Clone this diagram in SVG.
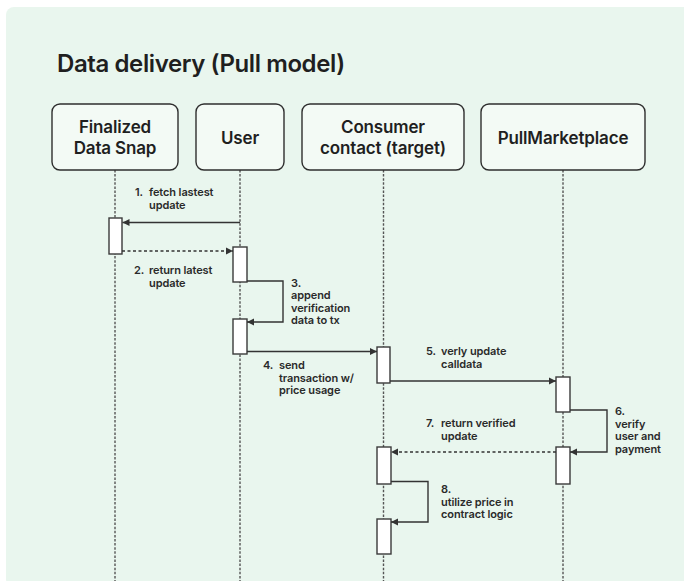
<svg xmlns="http://www.w3.org/2000/svg" width="684" height="581" viewBox="0 0 684 581">
<defs>
<style>
.bg{fill:#e9f6ee}
.box{fill:#f3faf5;stroke:#2e2e2e;stroke-width:1.4}
.bt{font-family:Inter,"Liberation Sans",sans-serif;font-size:17px;font-weight:600;fill:#1f1f1f;text-anchor:middle;letter-spacing:-0.15px}
.title{font-family:Inter,"Liberation Sans",sans-serif;font-size:24px;font-weight:600;fill:#1f1f1f;letter-spacing:-0.4px}
.life{stroke:#555;stroke-width:1.4;stroke-dasharray:2.5 1.6;fill:none}
.act{fill:#fff;stroke:#3a3a3a;stroke-width:1.4}
.msg{stroke:#333;stroke-width:1.4;fill:none;marker-end:url(#ah)}
.dash{stroke-dasharray:3 2.5}
.lb{font-family:Inter,"Liberation Sans",sans-serif;font-size:11px;font-weight:600;fill:#2a2a2a;letter-spacing:-0.1px}
</style>
<marker id="ah" markerUnits="userSpaceOnUse" markerWidth="8" markerHeight="8" viewBox="0 0 8 8" refX="7" refY="4" orient="auto">
<path d="M0,0.5 L7,4 L0,7.5 z" fill="#333"/>
</marker>
</defs>
<rect x="0" y="0" width="684" height="581" fill="#ffffff"/>
<rect class="bg" x="6" y="7" width="690" height="580" rx="8"/>
<text class="title" x="57" y="72">Data delivery (Pull model)</text>

<g id="snap">
<line class="life" x1="115" y1="170" x2="115" y2="581"/>
<rect class="box" x="52" y="104" width="126" height="66" rx="8"/>
<text class="bt" x="115" y="133">Finalized</text>
<text class="bt" x="115" y="154">Data Snap</text>
<rect class="act" x="109" y="218" width="13" height="36"/>
</g>

<g id="user">
<line class="life" x1="240" y1="170" x2="240" y2="581"/>
<rect class="box" x="196" y="104" width="88" height="66" rx="8"/>
<text class="bt" x="240" y="143.5">User</text>
<rect class="act" x="233" y="247" width="14" height="35"/>
<rect class="act" x="233" y="319" width="14" height="35"/>
</g>

<g id="consumer">
<line class="life" x1="383.5" y1="170" x2="383.5" y2="581"/>
<rect class="box" x="302" y="104" width="162" height="66" rx="8"/>
<text class="bt" x="383" y="133">Consumer</text>
<text class="bt" x="383" y="154">contact (target)</text>
<rect class="act" x="377" y="347" width="13" height="36"/>
<rect class="act" x="377" y="447" width="14" height="37"/>
<rect class="act" x="377" y="519" width="14" height="35"/>
</g>

<g id="marketplace">
<line class="life" x1="563" y1="170" x2="563" y2="581"/>
<rect class="box" x="481" y="104" width="164" height="66" rx="8"/>
<text class="bt" x="563" y="143.5">PullMarketplace</text>
<rect class="act" x="556" y="377" width="14" height="35"/>
<rect class="act" x="556" y="447" width="14" height="37"/>
</g>

<g id="connectors">
<path class="msg" d="M240 222.5 H122.5"/>
<path class="msg dash" d="M122 251 H233"/>
<path class="msg" d="M247 281 H283 V322 H247"/>
<path class="msg" d="M247 351.5 H377"/>
<path class="msg" d="M390 381 H556"/>
<path class="msg" d="M570 410 H607 V452 H570"/>
<path class="msg dash" d="M556 452 H391"/>
<path class="msg" d="M391 481.5 H428 V522 H391"/>

<text class="lb" x="135" y="196">1.</text>
<text class="lb" x="149" y="196">fetch lastest</text>
<text class="lb" x="149" y="208.5">update</text>

<text class="lb" x="134" y="274">2.</text>
<text class="lb" x="149" y="274">return latest</text>
<text class="lb" x="149" y="286.5">update</text>

<text class="lb" x="291" y="286.5">3.</text>
<text class="lb" x="291" y="299">append</text>
<text class="lb" x="291" y="311.5">verification</text>
<text class="lb" x="291" y="324">data to tx</text>

<text class="lb" x="263" y="369">4.</text>
<text class="lb" x="279" y="369">send</text>
<text class="lb" x="279" y="381.5">transaction w/</text>
<text class="lb" x="279" y="394">price usage</text>

<text class="lb" x="426" y="355">5.</text>
<text class="lb" x="441" y="355">verly update</text>
<text class="lb" x="441" y="367.5">calldata</text>

<text class="lb" x="615" y="415">6.</text>
<text class="lb" x="615" y="427.5">verify</text>
<text class="lb" x="615" y="440">user and</text>
<text class="lb" x="615" y="452.5">payment</text>

<text class="lb" x="426" y="427">7.</text>
<text class="lb" x="441" y="427">return verified</text>
<text class="lb" x="441" y="439.5">update</text>

<text class="lb" x="441" y="493">8.</text>
<text class="lb" x="441" y="505.5">utilize price in</text>
<text class="lb" x="441" y="518">contract logic</text>
</g>
</svg>
